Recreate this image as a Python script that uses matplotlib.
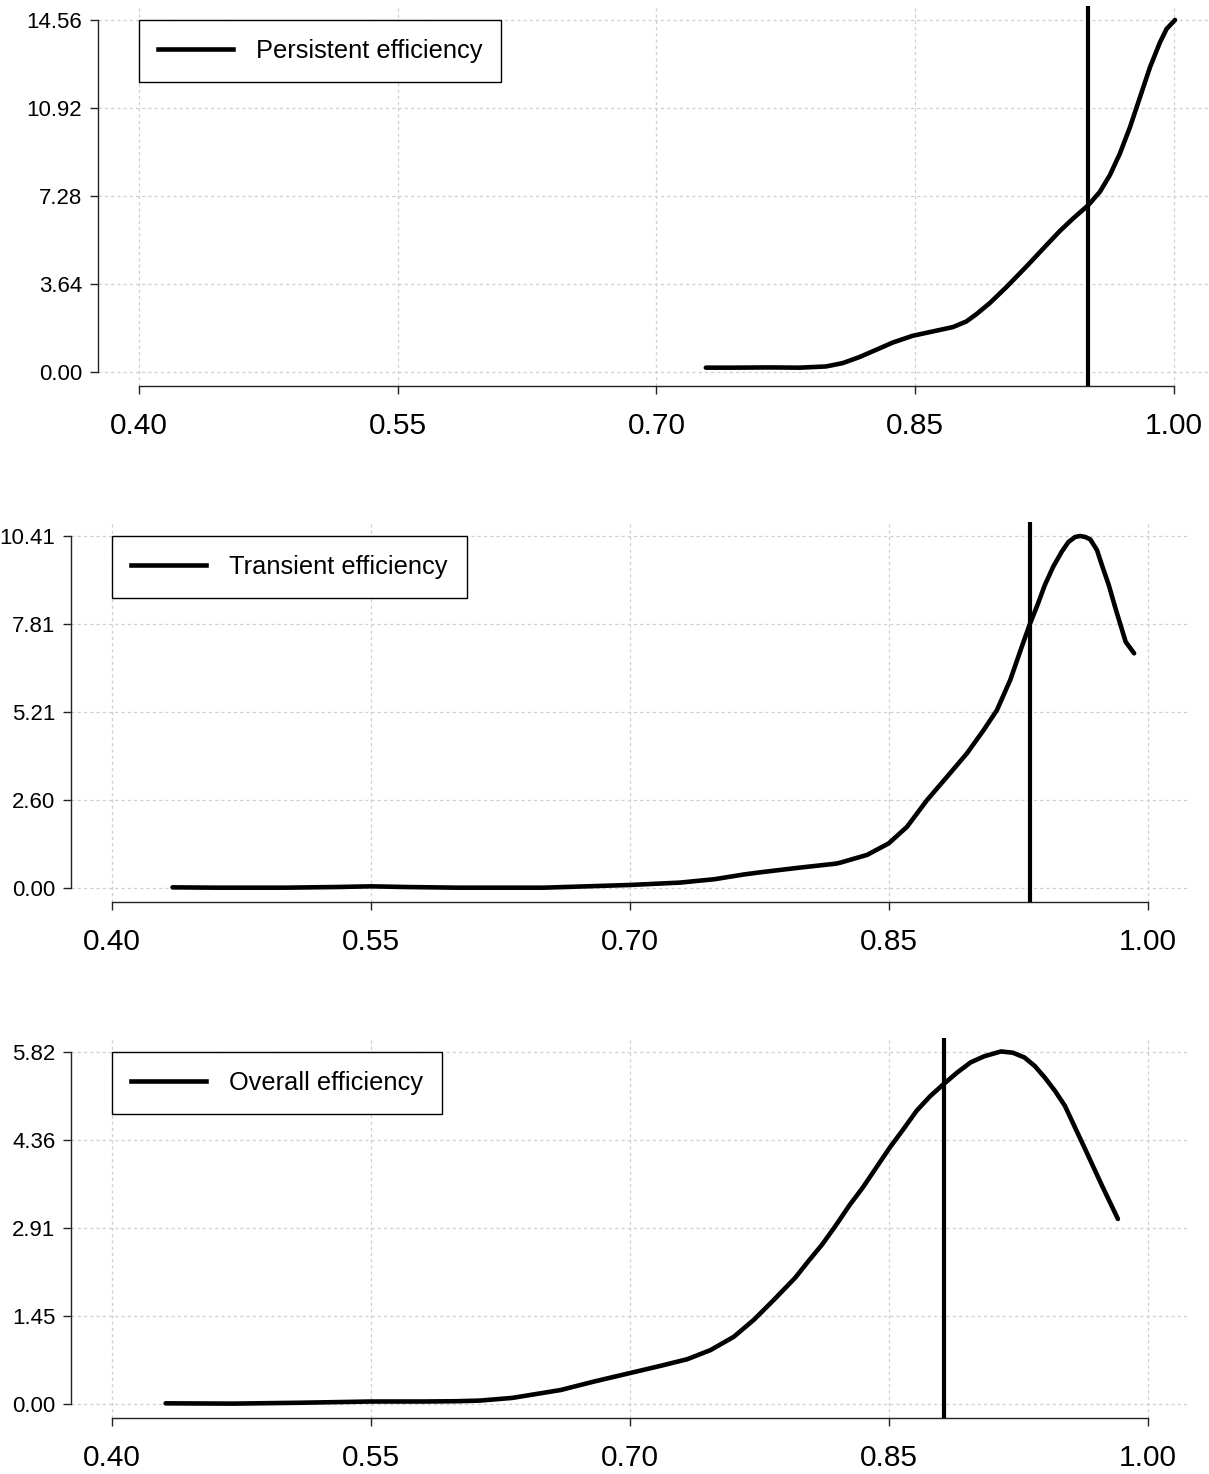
import matplotlib
matplotlib.use("Agg")
import matplotlib.pyplot as plt
from matplotlib.lines import Line2D

plt.rcParams['font.family'] = ['Liberation Sans', 'DejaVu Sans']

# ---------------- data ----------------
x_ticks = [0.40, 0.55, 0.70, 0.85, 1.00]

persistent_x = [0.7286, 0.745, 0.765, 0.7828, 0.7983, 0.808, 0.8177, 0.8274, 0.837, 0.8486,
                0.8603, 0.8719, 0.8796, 0.8854, 0.8932, 0.9028, 0.9144, 0.9261, 0.9338, 0.9415,
                0.9503, 0.957, 0.9628, 0.9686, 0.9745, 0.9803, 0.9861, 0.9919, 0.9957, 1.0006]
persistent_y = [0.18, 0.18, 0.19, 0.18, 0.23, 0.37, 0.62, 0.92, 1.22, 1.50,
                1.68, 1.86, 2.09, 2.39, 2.85, 3.51, 4.36, 5.25, 5.83, 6.35,
                6.90, 7.45, 8.14, 9.03, 10.13, 11.37, 12.61, 13.64, 14.19, 14.56]
persistent_vline = 0.950
persistent_ticks = [0.00, 3.64, 7.28, 10.92, 14.56]

transient_x = [0.435, 0.46, 0.50, 0.53, 0.55, 0.57, 0.60, 0.65, 0.70, 0.729,
               0.749, 0.766, 0.7764, 0.7979, 0.8193, 0.822, 0.8375, 0.85, 0.8606, 0.8722,
               0.8838, 0.8953, 0.905, 0.9127, 0.9204, 0.9268, 0.9316, 0.9365, 0.9404, 0.9453,
               0.9502, 0.9541, 0.958, 0.9609, 0.9639, 0.9668, 0.9707, 0.9736, 0.9775, 0.9814,
               0.9873, 0.9922]
transient_y = [0.02, 0.01, 0.01, 0.03, 0.05, 0.03, 0.01, 0.01, 0.09, 0.16,
               0.26, 0.40, 0.47, 0.60, 0.72, 0.75, 0.98, 1.32, 1.81, 2.60,
               3.29, 3.98, 4.67, 5.26, 6.15, 7.09, 7.78, 8.41, 8.95, 9.50,
               9.94, 10.23, 10.38, 10.41, 10.38, 10.31, 9.99, 9.54, 8.96, 8.27,
               7.28, 6.94]
transient_vline = 0.932
transient_ticks = [0.00, 2.60, 5.21, 7.81, 10.41]

overall_x = [0.431, 0.47, 0.51, 0.55, 0.58, 0.60, 0.613, 0.632, 0.6599, 0.6792,
             0.70, 0.7178, 0.7333, 0.7467, 0.7602, 0.7718, 0.7834, 0.7959, 0.8037,
             0.8115, 0.8193, 0.8271, 0.835, 0.8428, 0.8506, 0.8584, 0.8662, 0.874, 0.8818,
             0.8896, 0.8975, 0.9053, 0.915, 0.9219, 0.9287, 0.9346, 0.9404, 0.9463, 0.9521,
             0.958, 0.9639, 0.9736, 0.9828]
overall_y = [0.01, 0.005, 0.02, 0.04, 0.04, 0.045, 0.055, 0.10, 0.23, 0.37,
             0.51, 0.63, 0.74, 0.89, 1.11, 1.39, 1.72, 2.09, 2.37,
             2.64, 2.95, 3.28, 3.58, 3.91, 4.24, 4.54, 4.85, 5.09, 5.29,
             5.48, 5.65, 5.75, 5.83, 5.81, 5.73, 5.59, 5.40, 5.18, 4.93,
             4.57, 4.21, 3.61, 3.06]
overall_vline = 0.882
overall_ticks = [0.00, 1.45, 2.91, 4.36, 5.82]

labels = ["Persistent efficiency", "Transient efficiency", "Overall efficiency"]

panels = [
    (persistent_x, persistent_y, persistent_vline, persistent_ticks, labels[0]),
    (transient_x, transient_y, transient_vline, transient_ticks, labels[1]),
    (overall_x, overall_y, overall_vline, overall_ticks, labels[2]),
]

# ---------------- layout (pixels of a 1209x1474 canvas) ----------------
W, H = 1209, 1474
boxes = [  # left, right, top, bottom
    (97.6, 1215.4, 5.9, 386.1),
    (70.7, 1189.0, 521.9, 902.1),
    (70.7, 1189.0, 1038.0, 1418.0),
]

fig = plt.figure(figsize=(W / 100, H / 100), dpi=100)

for (xs, ys, vx, yt, lab), (l, r, t, b) in zip(panels, boxes):
    ax = fig.add_axes([l / W, 1 - b / H, (r - l) / W, (b - t) / H])
    ymax = yt[-1]
    ax.set_xlim(0.4 - 0.04 * 0.6, 1.0 + 0.04 * 0.6)
    ax.set_ylim(-0.04 * ymax, 1.04 * ymax)

    for xv in x_ticks:
        ax.axvline(xv, color='#cfcfcf', lw=0.9, ls=(0, (2.5, 2.5)), zorder=0)
    for yv in yt:
        ax.axhline(yv, color='#cfcfcf', lw=0.9, ls=(0, (2.5, 2.5)), zorder=0)

    ax.plot(xs, ys, color='black', lw=3.3, solid_capstyle='round', solid_joinstyle='round', zorder=3)
    ax.axvline(vx, color='black', lw=3.0, zorder=3)

    ax.set_xticks(x_ticks)
    ax.set_xticklabels([f"{v:.2f}" for v in x_ticks])
    ax.set_yticks(yt)
    ax.set_yticklabels([f"{v:.2f}" for v in yt])

    for s in ['top', 'right']:
        ax.spines[s].set_visible(False)
    ax.spines['left'].set_bounds(yt[0], yt[-1])
    ax.spines['bottom'].set_bounds(x_ticks[0], x_ticks[-1])
    for s in ['left', 'bottom']:
        ax.spines[s].set_linewidth(1.0)
        ax.spines[s].set_color('#222222')

    ax.tick_params(axis='x', length=5.5, width=1.0, pad=13, labelsize=21.5, color='#222222')
    ax.tick_params(axis='y', length=6, width=1.0, pad=5, labelsize=16, color='#222222')

    handle = Line2D([0], [0], color='black', lw=3.3)
    leg = ax.legend([handle], [lab], loc='upper left', bbox_to_anchor=(0.40, ymax),
                    bbox_transform=ax.transData, borderaxespad=0, frameon=True,
                    fancybox=False, edgecolor='black', framealpha=1, fontsize=18.3,
                    handlelength=2.95, handletextpad=0.92, borderpad=0.74)
    leg.get_frame().set_linewidth(1.0)
    leg.set_zorder(5)

fig.savefig("out.png", dpi=100)
